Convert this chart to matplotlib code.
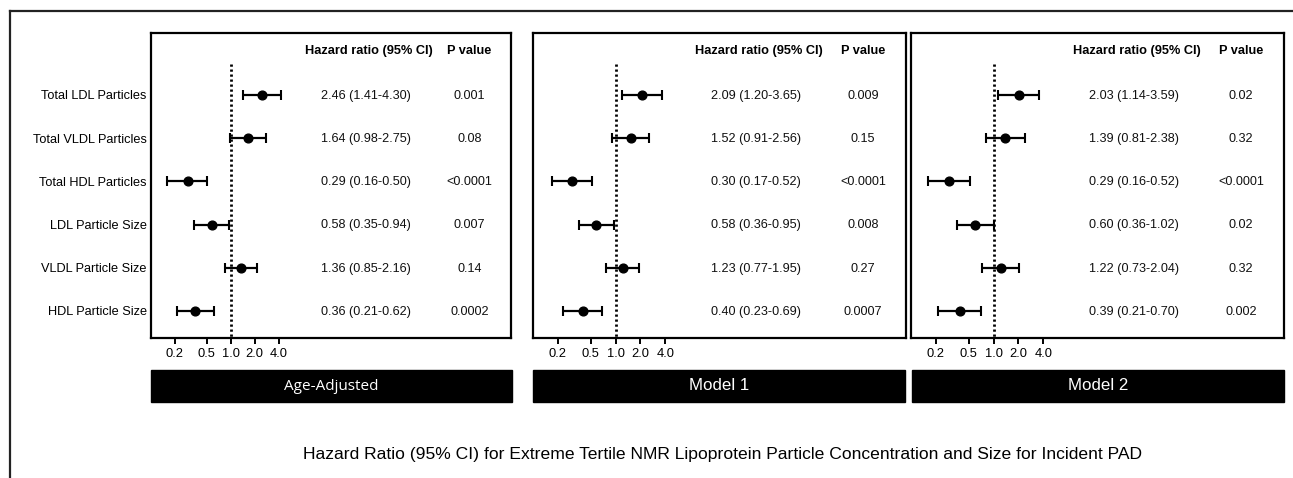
import matplotlib.pyplot as plt
from matplotlib.lines import Line2D
from matplotlib.patches import Rectangle

plt.rcParams["font.family"] = ["Liberation Sans", "DejaVu Sans"]

# Data
rows = ["Total LDL Particles", "Total VLDL Particles", "Total HDL Particles",
        "LDL Particle Size", "VLDL Particle Size", "HDL Particle Size"]
models = ["Age-Adjusted", "Model 1", "Model 2"]

hr_age = [2.46, 1.64, 0.29, 0.58, 1.36, 0.36]
lo_age = [1.41, 0.98, 0.16, 0.35, 0.85, 0.21]
hi_age = [4.30, 2.75, 0.50, 0.94, 2.16, 0.62]
p_age = ["0.001", "0.08", "<0.0001", "0.007", "0.14", "0.0002"]

hr_m1 = [2.09, 1.52, 0.30, 0.58, 1.23, 0.40]
lo_m1 = [1.20, 0.91, 0.17, 0.36, 0.77, 0.23]
hi_m1 = [3.65, 2.56, 0.52, 0.95, 1.95, 0.69]
p_m1 = ["0.009", "0.15", "<0.0001", "0.008", "0.27", "0.0007"]

hr_m2 = [2.03, 1.39, 0.29, 0.60, 1.22, 0.39]
lo_m2 = [1.14, 0.81, 0.16, 0.36, 0.73, 0.21]
hi_m2 = [3.59, 2.38, 0.52, 1.02, 2.04, 0.70]
p_m2 = ["0.02", "0.32", "<0.0001", "0.02", "0.32", "0.002"]

xticks = [0.2, 0.5, 1.0, 2.0, 4.0]

W, H = 1293, 478
fig = plt.figure(figsize=(W / 100, H / 100), dpi=100)


def rect(l, t, r, b):
    return [l / W, 1 - b / H, (r - l) / W, (b - t) / H]


panels = [(151, 33, 511, 338), (533, 33, 906, 338), (911, 33, 1284, 338)]
bars = [(151, 370, 512, 402), (533, 370, 905, 402), (912, 370, 1284, 402)]
series = [(hr_age, lo_age, hi_age, p_age),
          (hr_m1, lo_m1, hi_m1, p_m1),
          (hr_m2, lo_m2, hi_m2, p_m2)]

# outer frame (top and left only)
fig.add_artist(Line2D([10 / W, 1], [1 - 11 / H, 1 - 11 / H], color="#222222", lw=1.6))
fig.add_artist(Line2D([10 / W, 10 / W], [1 - 11 / H, 0], color="#222222", lw=1.6))

for i, (box, bar, (hr, lo, hi, pv)) in enumerate(zip(panels, bars, series)):
    ax = fig.add_axes(rect(*box))
    ax.set_xscale("log")
    ax.set_xlim(0.1, 3300)
    ax.set_ylim(5.625, -1.435)
    ys = list(range(len(rows)))
    xerr = [[h - l for h, l in zip(hr, lo)], [u - h for h, u in zip(hr, hi)]]
    ax.errorbar(hr, ys, xerr=xerr, fmt="o", color="black", ms=6.3,
                capsize=3.7, elinewidth=1.6, capthick=1.5)
    ax.plot([1, 1], [-0.72, 5.625], color="black", lw=2, ls=(0, (0.8, 1.0)))

    tr = ax.get_yaxis_transform()
    ax.text(0.605, -1.02, "Hazard ratio (95% CI)", transform=tr, ha="center",
            va="center", fontsize=9.2, fontweight="bold")
    ax.text(0.885, -1.02, "P value", transform=tr, ha="center",
            va="center", fontsize=9.2, fontweight="bold")
    for y, h, l, u, p in zip(ys, hr, lo, hi, pv):
        ax.text(0.597, y + 0.02, f"{h:.2f} ({l:.2f}-{u:.2f})", transform=tr,
                ha="center", va="center", fontsize=9.1, color="#111111")
        ax.text(0.885, y + 0.02, p, transform=tr, ha="center", va="center",
                fontsize=9.1, color="#111111")

    ax.set_xticks(xticks)
    ax.set_xticklabels([f"{t:.1f}" for t in xticks])
    ax.minorticks_off()
    ax.tick_params(axis="x", direction="out", length=4, width=1.4,
                   labelsize=9.3, pad=3)
    if i == 0:
        ax.set_yticks(ys)
        ax.set_yticklabels(rows, fontsize=9.2)
        ax.tick_params(axis="y", length=0, pad=3)
    else:
        ax.set_yticks([])
    for s in ax.spines.values():
        s.set_linewidth(1.6)

    l, t, r, b = bar
    fig.patches.append(Rectangle((l / W, 1 - b / H), (r - l) / W, (b - t) / H,
                                 transform=fig.transFigure, color="black"))
    if i == 0:
        fam, fs = ["Open Sans", "DejaVu Sans"], 11
    else:
        fam, fs = ["Liberation Sans", "DejaVu Sans"], 12.2
    fig.text((l + r) / 2 / W, 1 - (t + b) / 2 / H, models[i], color="white",
             ha="center", va="center", fontsize=fs, family=fam)

fig.text(723 / W, 1 - 455 / H,
         "Hazard Ratio (95% CI) for Extreme Tertile NMR Lipoprotein Particle "
         "Concentration and Size for Incident PAD",
         ha="center", va="center", fontsize=12.6)

fig.savefig("out.png", dpi=100)
